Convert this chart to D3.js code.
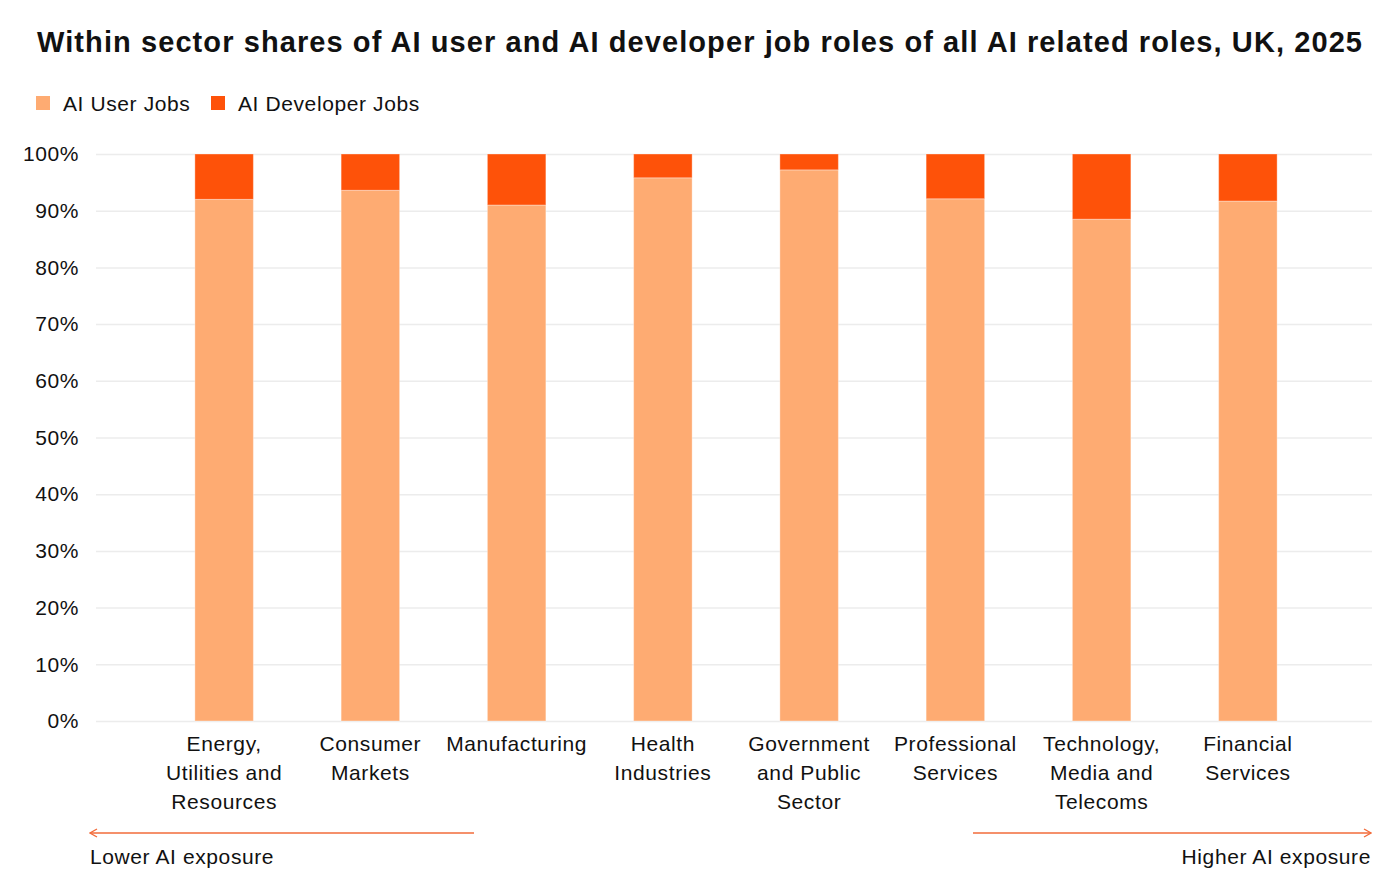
<!DOCTYPE html>
<html>
<head>
<meta charset="utf-8">
<script src="https://cdn.jsdelivr.net/npm/d3@7"></script>
<style>
  body { margin: 0; background: #fff; }
  text { font-family: "Liberation Sans", Arial, Helvetica, sans-serif; fill: #111; }
  .lbl { font-size: 21px; letter-spacing: 0.6px; }
</style>
</head>
<body>
<div id="chart"></div>
<script>
const width = 1400, height = 888;

// data
const sectors = [
  ["Energy,", "Utilities and", "Resources"],
  ["Consumer", "Markets"],
  ["Manufacturing"],
  ["Health", "Industries"],
  ["Government", "and Public", "Sector"],
  ["Professional", "Services"],
  ["Technology,", "Media and", "Telecoms"],
  ["Financial", "Services"]
];
const userJobs = [92.0, 93.6, 91.0, 95.8, 97.2, 92.1, 88.5, 91.7];
const devJobs = userJobs.map(v => +(100 - v).toFixed(1));
const yTicks = [0, 10, 20, 30, 40, 50, 60, 70, 80, 90, 100];
const seriesNames = ["AI User Jobs", "AI Developer Jobs"];
const colors = ["#FEAB72", "#FE5209"];

const svg = d3.select("#chart").append("svg")
  .attr("width", width).attr("height", height);

const x = d3.scaleBand()
  .domain(d3.range(sectors.length))
  .range([151, 1321])
  .paddingInner(0.6)
  .paddingOuter(0.3);

const y = d3.scaleLinear().domain([0, 100]).range([721, 154]);

// title
svg.append("text")
  .attr("x", 37).attr("y", 52)
  .attr("textLength", 1325).attr("lengthAdjust", "spacing")
  .style("font-size", "29px").style("font-weight", "bold")
  .text("Within sector shares of AI user and AI developer job roles of all AI related roles, UK, 2025");

// legend
const legX = [36, 211];
seriesNames.forEach((n, i) => {
  svg.append("rect").attr("x", legX[i]).attr("y", 96).attr("width", 14).attr("height", 14)
    .attr("fill", colors[i]);
  svg.append("text").attr("class", "lbl").attr("x", legX[i] + 27).attr("y", 111).text(n);
});

// grid + y labels
svg.append("g")
  .attr("transform", "translate(96,0)")
  .call(d3.axisLeft(y).tickValues(yTicks).tickFormat(d => d + "%")
    .tickSize(-(1372 - 96)).tickPadding(17))
  .call(g => g.select(".domain").remove())
  .call(g => g.selectAll(".tick line").attr("stroke", "#ececec").attr("stroke-width", 1.5))
  .call(g => g.selectAll(".tick text").attr("class", "lbl")
    .style("font-family", "'Liberation Sans', Arial, sans-serif").attr("fill", "#111"));

// stacked bars
const stacked = d3.stack().keys([0, 1])(userJobs.map((u, i) => [u, devJobs[i]]));
svg.append("g").selectAll("g")
  .data(stacked).join("g")
  .attr("fill", (d, i) => colors[i])
  .selectAll("rect")
  .data(d => d).join("rect")
  .attr("x", (d, i) => x(i))
  .attr("y", d => y(d[1]))
  .attr("width", x.bandwidth())
  .attr("height", d => y(d[0]) - y(d[1]))
  .attr("stroke", "#fff").attr("stroke-opacity", 0.35).attr("stroke-width", 1);

// x labels
const xl = svg.append("g");
sectors.forEach((lines, i) => {
  const cx = x(i) + x.bandwidth() / 2;
  const t = xl.append("text").attr("class", "lbl")
    .attr("x", cx).attr("y", 751)
    .attr("text-anchor", "middle");
  lines.forEach((l, j) => t.append("tspan")
    .attr("x", cx).attr("dy", j ? 29 : 0).text(l));
});

// exposure arrows
const arrowColor = "#F26B3A";
const defs = svg.append("defs");
["start", "end"].forEach(k => {
  defs.append("marker").attr("id", "arr-" + k)
    .attr("viewBox", "0 0 10 10").attr("refX", k === "end" ? 9 : 1).attr("refY", 5)
    .attr("markerWidth", 10).attr("markerHeight", 10).attr("markerUnits", "userSpaceOnUse")
    .attr("orient", "auto")
    .append("path")
    .attr("d", k === "end" ? "M2,1 L9,5 L2,9" : "M8,1 L1,5 L8,9")
    .attr("fill", "none").attr("stroke", arrowColor).attr("stroke-width", 1.3);
});
svg.append("line").attr("x1", 90).attr("x2", 474).attr("y1", 833).attr("y2", 833)
  .attr("stroke", arrowColor).attr("stroke-width", 1.3).attr("marker-start", "url(#arr-start)");
svg.append("line").attr("x1", 973).attr("x2", 1371).attr("y1", 833).attr("y2", 833)
  .attr("stroke", arrowColor).attr("stroke-width", 1.3).attr("marker-end", "url(#arr-end)");

svg.append("text").attr("class", "lbl").attr("x", 90).attr("y", 864).text("Lower AI exposure");
svg.append("text").attr("class", "lbl").attr("x", 1371).attr("y", 864).attr("text-anchor", "end")
  .text("Higher AI exposure");
</script>
</body>
</html>
